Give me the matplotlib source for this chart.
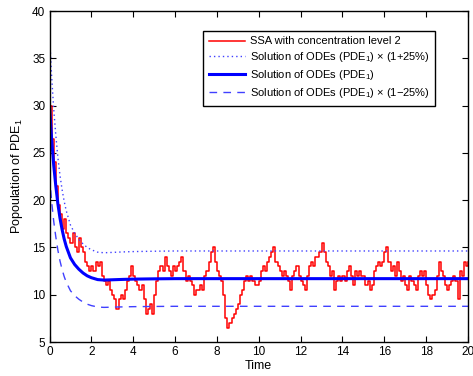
import matplotlib
matplotlib.use("Agg")
import matplotlib.pyplot as plt
import numpy as np

plt.rcParams['font.family'] = ['Liberation Sans', 'DejaVu Sans']
plt.rcParams['mathtext.fontset'] = 'custom'
plt.rcParams['mathtext.rm'] = 'Liberation Sans'
plt.rcParams['mathtext.it'] = 'Liberation Sans'

# ODE solution (PDE_1)
ode_t = [0, 0.1, 0.2, 0.3, 0.4, 0.5, 0.6, 0.7, 0.8, 1.0, 1.2, 1.4, 1.6, 1.8,
         2.0, 2.3, 2.6, 3.0, 3.5, 4.0, 5.0, 6.0, 20.0]
ode_v = [30, 26.5, 23.7, 21.5, 19.6, 18.1, 16.9, 15.9, 15.1, 13.9, 13.2, 12.7,
         12.3, 12.0, 11.8, 11.6, 11.55, 11.58, 11.62, 11.65, 11.68, 11.7, 11.7]

# SSA trajectory, one value every 0.1 time units
ssa_t = np.arange(0, 20.01, 0.1)
ssa_v = [30, 26.5, 24, 21.5, 19.5, 18.5, 17, 18, 16.5, 16,
         15.5, 16.5, 15, 14.5, 16, 15, 14.5, 13.5, 13, 12.5,
         13, 12.5, 13.5, 13, 13.5, 12, 11.5, 11, 11.5, 10.5,
         10, 9.5, 8.5, 9.5, 10, 9.5, 10.5, 11.5, 12, 13,
         12, 11.5, 11, 10.5, 11, 9.5, 8, 8.5, 9, 8,
         10, 11.5, 12.5, 13, 12.5, 14, 13, 12.5, 12, 13,
         12.5, 13, 13.5, 14, 12.5, 11.5, 12, 11.5, 11, 10,
         10.5, 10.5, 11, 10.5, 12, 12.5, 13.5, 14.5, 15, 13.5,
         12.5, 12, 11.5, 10, 7.5, 6.5, 7, 7.5, 8, 8.5,
         9, 10, 10.5, 11.5, 12, 11.5, 12, 11.5, 11, 11,
         11.5, 12.5, 13, 12.5, 13.5, 14, 14.5, 15, 13.5, 13,
         12.5, 12, 12.5, 12, 11.5, 10.5, 12, 12.5, 13, 12,
         11.5, 11, 10.5, 12, 13, 13.5, 13, 14, 14, 14.5,
         15.5, 14.5, 13.5, 13, 12, 12.5, 10.5, 11.5, 12, 11.5,
         12, 11.5, 12.5, 13, 12, 11, 12.5, 12, 12.5, 12,
         12, 11, 11.5, 10.5, 11, 12.5, 13, 13.5, 13, 13.5,
         14.5, 15, 13.5, 12.5, 13, 12, 13.5, 12.5, 11.5, 12,
         11, 10.5, 12, 11.5, 11, 10.5, 12, 12.5, 12, 12.5,
         11, 10, 9.5, 10, 10.5, 12, 13.5, 12.5, 12, 11,
         10.5, 11, 11.5, 12, 11.5, 9.5, 12.5, 12, 13.5, 13,
         13.5]

ode_t = np.array(ode_t)
ode_v = np.array(ode_v)

fig = plt.figure(figsize=(4.73, 3.76), dpi=100)
ax = fig.add_axes([0.1047, 0.0904, 0.8847, 0.8803])

ax.plot(ssa_t, ssa_v, color='red', lw=1.1, drawstyle='steps-post',
        label='SSA with concentration level 2')
ax.plot(ode_t, ode_v * 1.25, color='#4040ff', lw=1, dashes=(1, 2.2),
        label=r'Solution of ODEs (PDE$_1$) × (1+25%)')
ax.plot(ode_t, ode_v, '-', color='blue', lw=2.2,
        label=r'Solution of ODEs (PDE$_1$)')
ax.plot(ode_t, ode_v * 0.75, color='#4040ff', lw=1,
        dashes=(5.5, 4.5), label=r'Solution of ODEs (PDE$_1$) × (1−25%)')

ax.set_xlim(0, 20)
ax.set_ylim(5, 40)
ax.set_xticks(np.arange(0, 21, 2))
ax.set_yticks(np.arange(5, 41, 5))
ax.tick_params(direction='in', top=True, right=True, length=4, width=0.8,
               labelsize=8.5, pad=3)
for s in ax.spines.values():
    s.set_linewidth(1)

ax.set_xlabel('Time', fontsize=9, labelpad=1)
ax.set_ylabel(r'Popoulation of PDE$_1$', fontsize=9, labelpad=5)

leg = ax.legend(loc='upper right', bbox_to_anchor=(0.921, 0.94),
                borderaxespad=0, fontsize=8, fancybox=False,
                edgecolor='black', framealpha=1, handlelength=3.2,
                handletextpad=0.45, labelspacing=0.35, borderpad=0.5)
leg.get_frame().set_linewidth(1)

fig.savefig('out.png', dpi=100)
